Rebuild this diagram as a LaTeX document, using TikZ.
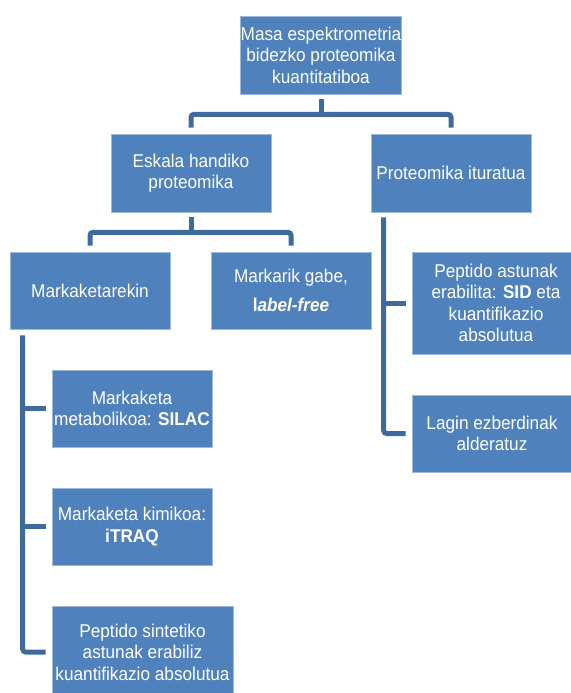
\documentclass[tikz,border=0pt]{standalone}
\usepackage{fontspec}
\setmainfont{Liberation Sans}[FakeStretch=0.93]

\definecolor{boxblue}{HTML}{4F81BD}
\definecolor{linkblue}{HTML}{3F6A9E}

\begin{document}
\begin{tikzpicture}[x=1pt, y=-1pt,
	box/.style={rectangle, fill=boxblue, draw=boxblue!55!white, line width=0.7pt, text=white, inner sep=0pt, minimum width=160pt, minimum height=77pt, align=center, font=\fontsize{18.5}{21.5}\selectfont},
	link/.style={linkblue, line width=5pt, rounded corners=3pt}]
	
\useasboundingbox (0,0) rectangle (570,693);

% Top box and the two main branches
\node[box, minimum height=78pt] (root) at (321,55) {Masa espektrometria\\bidezko proteomika\\kuantitatiboa};
\node[box, minimum height=78pt] (eskala) at (191,173) {Eskala handiko\\proteomika};
\node[box, minimum height=78pt] (ituratua) at (451,173) {Proteomika ituratua};

\draw[link] ([yshift=-5pt]root.south) -- ([yshift=-20pt]root.south);
\draw[link] ([yshift=6pt]eskala.north) |- ([yshift=-20pt]root.south) -| ([yshift=6pt]ituratua.north);


% Large scale: with and without labels
\node[box] (markaketa) at (90,290.5) {Markaketarekin};
\node[box] (labelfree) at (291,290.5) {Markarik gabe,\\[8pt]\textbf{l\textit{abel-free}}};

\draw[link] ([yshift=-5pt]eskala.south) -- ([yshift=-20pt]eskala.south);
\draw[link] ([yshift=6pt]markaketa.north) |- ([yshift=-20pt]eskala.south) -| ([yshift=6pt]labelfree.north);


% Labelling methods
\node[box] (silac) at (132,408.5) {Markaketa\\metabolikoa: \textbf{SILAC}};
\node[box] (itraq) at (132,526.5) {Markaketa kimikoa:\\\textbf{iTRAQ}};
\node[box, minimum width=181pt, minimum height=92pt] (sintetiko) at (142.5,652) {Peptido sintetiko\\astunak erabiliz\\kuantifikazio absolutua};

\coordinate (markspine) at ([xshift=13pt,yshift=-6pt]markaketa.south west);
\draw[link] (markspine) |- ([xshift=-6pt]sintetiko.west);
\draw[link] (markspine |- silac.west) -- ([xshift=-6pt]silac.west);
\draw[link] (markspine |- itraq.west) -- ([xshift=-6pt]itraq.west);


% Targeted proteomics
\node[box, minimum width=168pt, minimum height=102pt] (sid) at (496,303) {Peptido astunak\\erabilita: \textbf{SID} eta\\kuantifikazio\\absolutua};
\node[box] (lagin) at (492,433.5) {Lagin ezberdinak\\alderatuz};

\coordinate (iturspine) at ([xshift=13pt,yshift=-5pt]ituratua.south west);
\draw[link] (iturspine) |- ([xshift=-6pt]lagin.west);
\draw[link] (iturspine |- sid.west) -- ([xshift=-6pt]sid.west);


		
\end{tikzpicture}
\end{document}
